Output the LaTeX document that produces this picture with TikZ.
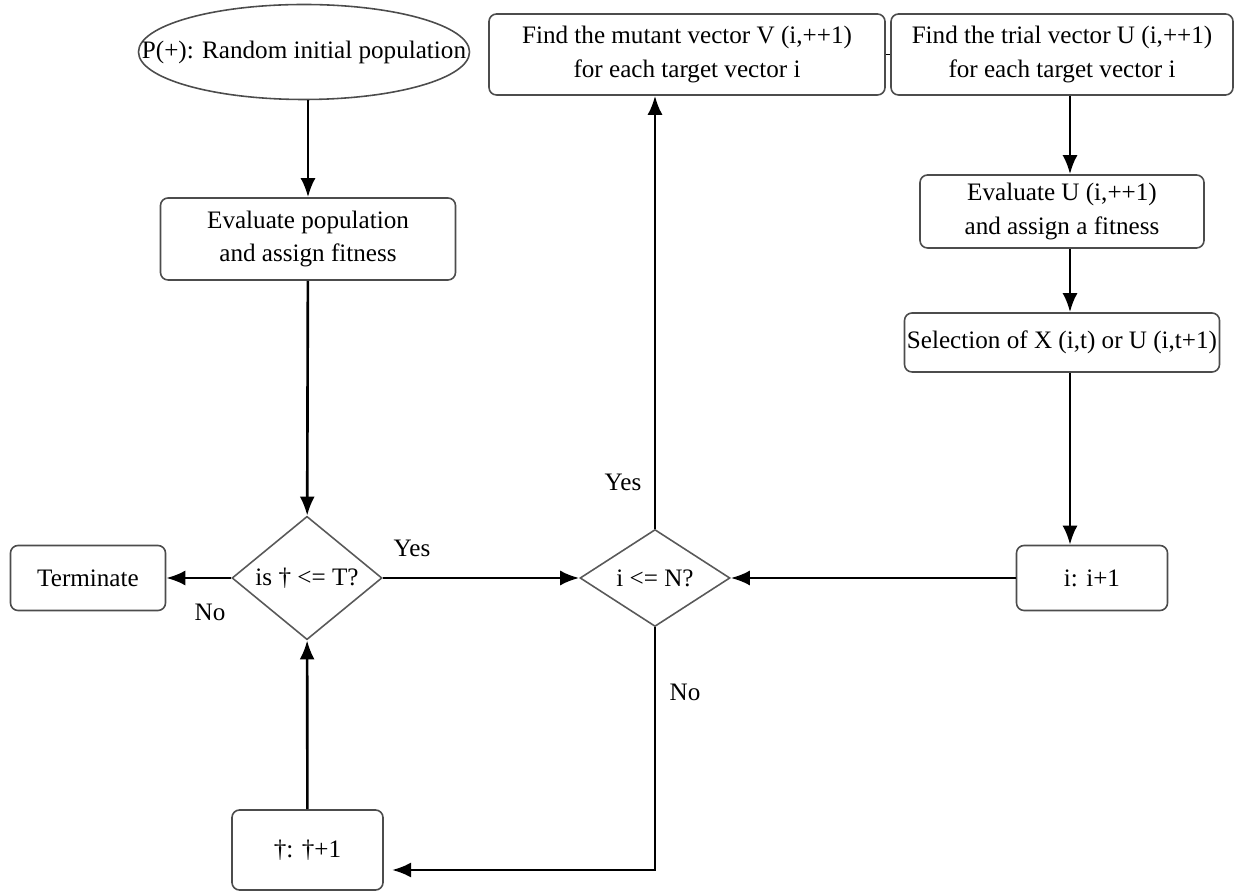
\documentclass[tikz,border=0pt]{standalone}
\usepackage{fontspec}
\setmainfont{Liberation Serif}
\usepackage{tikz}
\usetikzlibrary{shapes.geometric,arrows.meta}

\begin{document}
\begin{tikzpicture}[
		scale=1,
		every node/.style={font=\fontsize{14.3}{19}\selectfont, align=center, inner sep=0pt},
		box/.style={rectangle, rounded corners=1.5mm, draw=black!70, line width=0.9pt},
		cond/.style={diamond, draw=black!65, line width=0.9pt, minimum width=3cm, minimum height=1.94cm},
		arr/.style={-{Latex[length=3.8mm, width=3mm]}, line width=1.5pt}
	]
  \useasboundingbox (0cm, 0cm) rectangle (24.7cm, -17.88cm);
  \node (init) [ellipse, draw=black!70, line width=0.9pt, inner xsep=-0.9cm, minimum width=6.3cm, minimum height=1.9cm] at (6.08cm, -1.04cm) {P(+): Random initial population};
  \node (evalpop) [box, minimum width=5.9cm, minimum height=1.64cm] at (6.16cm, -4.78cm) {Evaluate population\\and assign fitness};
  \node (isT) [cond] at (6.14cm, -11.56cm) {is † <= T?};
  \node (term) [box, minimum width=3.1cm, minimum height=1.3cm] at (1.76cm, -11.56cm) {Terminate};
  \node (isN) [cond] at (13.1cm, -11.56cm) {i <= N?};
  \node (inc) [box, minimum width=3.02cm, minimum height=1.3cm] at (21.84cm, -11.56cm) {i: i+1};
  \node (mutant) [box, minimum width=7.92cm, minimum height=1.62cm] at (13.74cm, -1.09cm) {Find the mutant vector V (i,++1)\\for each target vector i};
  \node (trial) [box, minimum width=6.84cm, minimum height=1.62cm] at (21.24cm, -1.09cm) {Find the trial vector U (i,++1)\\for each target vector i};
  \node (evalU) [box, minimum width=5.68cm, minimum height=1.46cm] at (21.24cm, -4.23cm) {Evaluate U (i,++1)\\and assign a fitness};
  \node (select) [box, minimum width=6.3cm, minimum height=1.18cm] at (21.24cm, -6.85cm) {Selection of X (i,t) or U (i,t+1)};
  \node (tinc) [box, minimum width=3.02cm, minimum height=1.6cm] at (6.15cm, -17.0cm) {†: †+1};
  \node (yes1) at (8.24cm, -10.96cm) {Yes};
  \node (no1) at (4.2cm, -12.24cm) {No};
  \node (yes2) at (12.46cm, -9.64cm) {Yes};
  \node (no2) at (13.7cm, -13.84cm) {No};
  \coordinate (back) at (7.84cm, -17.4cm);
  \draw [arr] (init.south -| evalpop) -- (evalpop);
  \draw [arr] (evalpop) -- (isT);
  \draw [arr] (isT) -- (term);
  \draw [arr] (isT) -- (isN);
  \draw [arr] (isN.north) -- (isN.north |- mutant.south);
  \draw [line width=0.9pt] (mutant) -- (trial);
  \draw [arr] ([xshift=0.16cm]trial.south) -- ([xshift=0.16cm]evalU.north);
  \draw [arr] ([xshift=0.16cm]evalU.south) -- ([xshift=0.16cm]select.north);
  \draw [arr] ([xshift=0.16cm]select.south) -- ([xshift=0.16cm]select.south |- inc.north);
  \draw [arr] (inc) -- (isN);
  \draw [arr] (isN.south) |- (back);
  \draw [arr] (tinc) -- (isT);
\end{tikzpicture}
\end{document}
